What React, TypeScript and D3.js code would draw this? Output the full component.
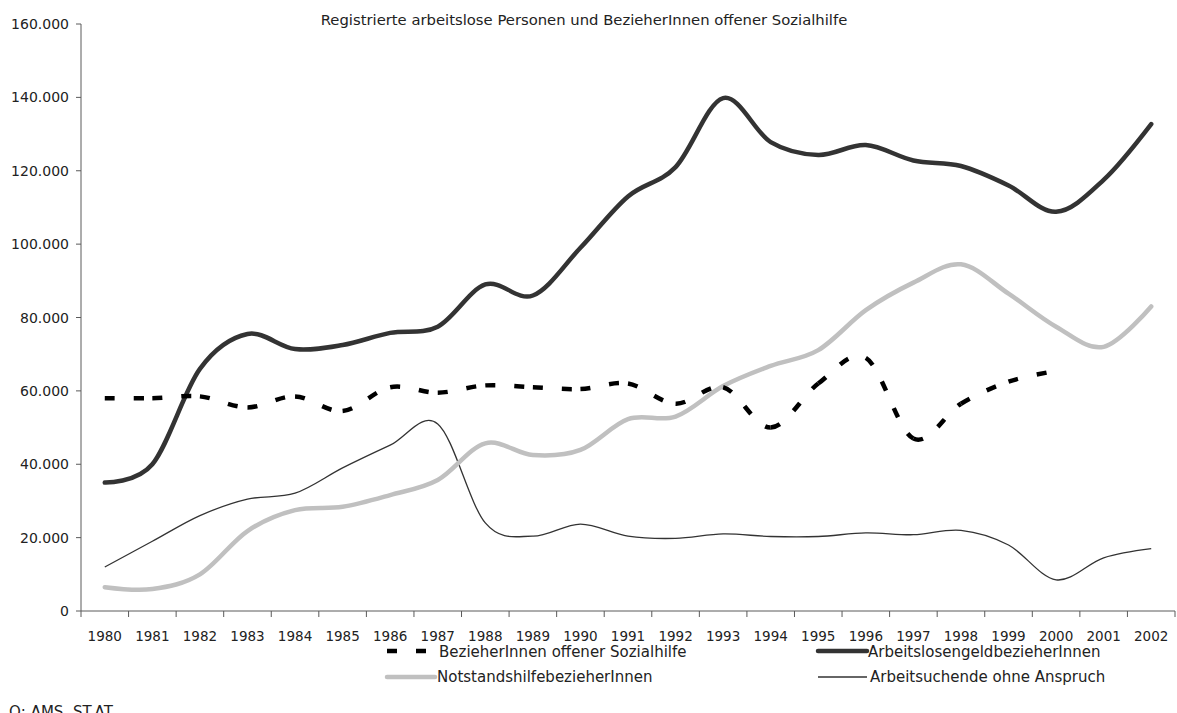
import React from "react";
import * as d3 from "d3";

const years = ["1980","1981","1982","1983","1984","1985","1986","1987","1988","1989","1990","1991","1992","1993","1994","1995","1996","1997","1998","1999","2000","2001","2002"];

const sozialhilfe: (number | null)[] = [58000,58000,58500,55500,58500,54500,61000,59500,61500,61000,60500,62000,56500,61000,50000,62000,69000,47000,56500,62500,65500,null,null];
const arbeitslosengeld = [35000,40000,66000,75500,71400,72500,75800,77500,89000,86000,99000,113000,121000,139800,127800,124300,127000,122800,121300,116000,108800,117500,132700];
const notstandshilfe = [6500,6000,10000,21800,27500,28400,31600,35700,45700,42500,43900,52300,53000,61300,66800,71100,82000,89500,94500,86500,77500,72000,83000];
const ohneAnspruch = [12000,19000,26000,30500,32100,39000,45200,51000,24000,20400,23700,20400,19800,21000,20300,20300,21300,20800,22000,18000,8500,14500,17000];

const yTicks = [0,20000,40000,60000,80000,100000,120000,140000,160000];

const title = "Registrierte arbeitslose Personen und BezieherInnen offener Sozialhilfe";
const source = "Q: AMS, ST.AT";
const legendLabels = ["BezieherInnen offener Sozialhilfe","ArbeitslosengeldbezieherInnen","NotstandshilfebezieherInnen","Arbeitsuchende ohne Anspruch"];

const W = 1177, H = 713;
const FONT = "DejaVu Sans, sans-serif";
const locale = d3.formatLocale({ decimal: ",", thousands: ".", grouping: [3], currency: ["", "€"] });
const fmt = locale.format(",");

export default function App() {
  const x = d3.scaleBand<string>().domain(years).range([81, 1175]).padding(0);
  const y = d3.scaleLinear().domain([0, 160000]).range([611, 24]);
  const cx = (i: number) => (x(years[i]) as number) + x.bandwidth() / 2;

  const lineGen = d3.line<number>()
    .x((_, i) => cx(i))
    .y((d) => y(d))
    .curve(d3.curveCardinal.tension(0));

  // dashed series: each segment drawn separately so dashes restart at each point (as Excel does)
  const pts = sozialhilfe
    .map((v, i) => (v == null ? null : [cx(i), y(v)] as [number, number]))
    .filter((p): p is [number, number] => p != null);
  const segs: string[] = [];
  for (let i = 0; i < pts.length - 1; i++) {
    const p0 = pts[Math.max(i - 1, 0)], p1 = pts[i], p2 = pts[i + 1], p3 = pts[Math.min(i + 2, pts.length - 1)];
    const p = d3.path();
    p.moveTo(p1[0], p1[1]);
    p.bezierCurveTo(
      p1[0] + (p2[0] - p0[0]) / 6, p1[1] + (p2[1] - p0[1]) / 6,
      p2[0] - (p3[0] - p1[0]) / 6, p2[1] - (p3[1] - p1[1]) / 6,
      p2[0], p2[1]
    );
    segs.push(p.toString());
  }

  const bw = x.bandwidth();
  const axisColor = "#5a5a5a";
  const textColor = "#222";

  return (
    <svg width={W} height={H} style={{ position: "absolute", left: 0, top: 0, display: "block", background: "#fff" }} fontFamily={FONT}>
      <text x={584} y={25} textAnchor="middle" fontSize={14.8} fill={textColor}>{title}</text>

      {/* y axis */}
      <line x1={81} x2={81} y1={y(160000)} y2={y(0)} stroke={axisColor} strokeWidth={1} />
      {yTicks.map((t) => (
        <g key={t}>
          <line x1={76} x2={81} y1={y(t)} y2={y(t)} stroke={axisColor} />
          <text x={69} y={y(t)} dy="0.36em" textAnchor="end" fontSize={14} fill={textColor}>{fmt(t)}</text>
        </g>
      ))}

      {/* x axis */}
      <line x1={81} x2={1175} y1={y(0)} y2={y(0)} stroke={axisColor} strokeWidth={1} />
      {years.map((yr, i) => (
        <g key={yr}>
          <line x1={(x(yr) as number)} x2={(x(yr) as number)} y1={y(0)} y2={y(0) + 6} stroke={axisColor} />
          <text x={cx(i)} y={641} textAnchor="middle" fontSize={13.5} fill={textColor}>{yr}</text>
        </g>
      ))}
      <line x1={81 + bw * years.length} x2={81 + bw * years.length} y1={y(0)} y2={y(0) + 6} stroke={axisColor} />

      {/* series */}
      <path d={lineGen(ohneAnspruch) || ""} fill="none" stroke="#333" strokeWidth={1.3} />
      <path d={lineGen(notstandshilfe) || ""} fill="none" stroke="#c0c0c0" strokeWidth={4.5} strokeLinecap="round" />
      <path d={lineGen(arbeitslosengeld) || ""} fill="none" stroke="#333" strokeWidth={4.5} strokeLinecap="round" />
      {segs.map((d, i) => (
        <path key={i} d={d} fill="none" stroke="#000" strokeWidth={4.5} strokeDasharray="10,19" strokeLinecap="butt" />
      ))}

      {/* legend */}
      <line x1={387} x2={426} y1={651} y2={651} stroke="#000" strokeWidth={4.5} strokeDasharray="10,19" />
      <text x={439} y={657} fontSize={15} fill={textColor}>{legendLabels[0]}</text>
      <line x1={818} x2={867} y1={651} y2={651} stroke="#333" strokeWidth={4.5} strokeLinecap="round" />
      <text x={868} y={657} fontSize={15} fill={textColor}>{legendLabels[1]}</text>
      <line x1={387} x2={435} y1={677} y2={677} stroke="#c0c0c0" strokeWidth={4.5} strokeLinecap="round" />
      <text x={437} y={682} fontSize={15} fill={textColor}>{legendLabels[2]}</text>
      <line x1={818} x2={867} y1={677} y2={677} stroke="#333" strokeWidth={1.3} />
      <text x={870} y={682} fontSize={15} fill={textColor}>{legendLabels[3]}</text>

      <text x={9} y={717} fontSize={15} fill={textColor}>{source}</text>
    </svg>
  );
}
